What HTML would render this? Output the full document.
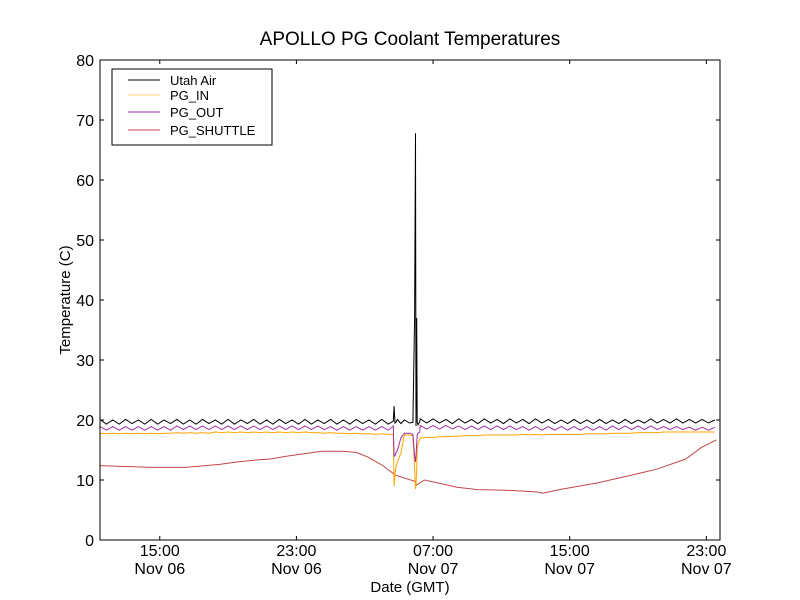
<!DOCTYPE html>
<html><head><meta charset="utf-8"><style>
body{margin:0;background:#fff;}
svg{display:block;font-family:"Liberation Sans",sans-serif;}
</style></head><body>
<svg id="chart" width="800" height="600"></svg>
<script>
// Hours since Nov 06 11:30 GMT
const xTickHours = [3.5, 11.5, 19.5, 27.5, 35.5];
const xTickLabels = [["15:00","Nov 06"],["23:00","Nov 06"],["07:00","Nov 07"],["15:00","Nov 07"],["23:00","Nov 07"]];
const yTicks = [0,10,20,30,40,50,60,70,80];
const seriesNames = ["Utah Air","PG_IN","PG_OUT","PG_SHUTTLE"];
const baseStep = 0.375;
const airBase = [20.1,19.3,20.0,19.3,20.1,19.4,20.0,19.3,20.1,19.3,20.0,19.4,20.1,19.3,20.0,19.3,20.1,19.4,20.0,19.3,20.1,19.3,20.0,19.4,20.1,19.3,20.0,19.3,20.1,19.4,20.0,19.3,20.1,19.3,20.0,19.4,20.1,19.3,20.0,19.3,20.1,19.4,20.0,19.3,20.1,19.3,20.0,19.4,20.1,19.3,20.2,19.5,20.2,19.5,20.1,19.4,20.2,19.5,20.1,19.4,20.2,19.5,20.1,19.4,20.2,19.5,20.1,19.4,20.2,19.5,20.1,19.4,20.0,19.4,20.1,19.4,20.0,19.4,20.1,19.4,20.0,19.4,20.1,19.4,20.0,19.5,20.2,19.5,20.1,19.5,20.2,19.5,20.1,19.5,20.1,19.5,20.0,19.6];
const outBase = [18.9,18.3,18.9,18.3,18.9,18.3,18.9,18.3,18.9,18.3,18.9,18.3,19.0,18.4,19.0,18.4,19.0,18.4,19.0,18.4,19.0,18.4,19.0,18.4,19.0,18.4,19.0,18.4,19.0,18.4,19.0,18.4,19.0,18.4,19.0,18.4,18.9,18.3,18.9,18.3,18.9,18.3,18.9,18.3,18.9,18.3,18.9,18.3,18.9,18.3,19.1,18.5,19.1,18.5,19.1,18.5,19.0,18.4,19.0,18.4,19.0,18.4,19.0,18.4,19.0,18.4,18.9,18.3,18.9,18.3,18.9,18.3,18.9,18.3,18.9,18.3,18.9,18.3,18.9,18.3,19.0,18.4,19.0,18.4,19.0,18.4,19.0,18.4,18.9,18.4,18.9,18.4,18.8,18.3,18.8,18.3,18.8,18.3];
const inBase = [17.8,17.7,17.8,17.7,17.8,17.7,17.8,17.7,17.8,17.7,17.8,17.8,17.9,17.8,17.9,17.8,17.9,17.8,18.0,17.9,18.0,17.9,18.0,17.9,18.0,17.9,18.0,17.9,18.0,17.9,18.0,17.9,18.0,17.9,17.9,17.8,17.9,17.8,17.8,17.7,17.8,17.7,17.7,17.6,17.7,17.6,17.6,17.6,17.0,17.0,17.0,17.1,17.1,17.2,17.2,17.3,17.3,17.4,17.4,17.4,17.5,17.5,17.5,17.5,17.5,17.5,17.6,17.5,17.6,17.5,17.6,17.6,17.6,17.6,17.6,17.6,17.7,17.7,17.7,17.7,17.8,17.8,17.8,17.8,17.9,17.9,17.9,17.9,18.0,18.0,18.0,18.0,18.0,18.0,18.0,18.0,18.0,18.0];
const eventHours = [17.17,17.22,17.27,17.32,17.42,17.62,17.82,18.12,18.32,18.42,18.47,18.5,18.54,18.57,18.62,18.72];
const airEvent =   [19.8,22.3,19.5,19.6,20.1,19.4,20.0,19.5,19.6,37.0,67.8,19.0,37.0,19.6,19.2,19.7];
const inEvent =    [17.6,9.0,11.0,12.0,13.0,14.5,17.5,17.5,17.4,12.0,8.5,9.0,12.0,15.0,16.0,16.8];
const outEvent =   [19.0,14.0,14.0,14.5,15.0,17.0,17.8,17.8,17.6,14.0,13.0,14.0,16.0,17.5,17.8,18.0];
const shuttleHours = [0,1,3,5,7,8,9,10,11,13,14.2,15,15.7,16.5,17.3,18.4,18.55,19,19.8,20.9,22.1,23.8,25.0,25.6,25.9,27.1,29.1,30.8,32.6,34.3,35.2,36.1];
const shuttleVals =  [12.4,12.3,12.1,12.1,12.6,13.0,13.3,13.5,14.0,14.8,14.8,14.6,13.8,12.5,10.8,9.8,9.2,10.0,9.5,8.8,8.4,8.3,8.1,8.0,7.8,8.5,9.5,10.6,11.8,13.5,15.4,16.7,16.3];

const NS="http://www.w3.org/2000/svg";
const svg=document.getElementById('chart');
const L=100,R=720,T=60,B=540,X0=0,X1=36.3;
const xs=h=>L+(h-X0)/(X1-X0)*(R-L);
const ys=v=>B-v/80*(B-T);
function mk(tag,attrs,parent){const e=document.createElementNS(NS,tag);for(const k in attrs)e.setAttribute(k,attrs[k]);(parent||svg).appendChild(e);return e;}
function txt(s,attrs){const e=mk('text',attrs);e.textContent=s;return e;}

function merged(base,evH,evV){
  const pts=[];
  base.forEach((v,i)=>{const h=i*baseStep;if(h<evH[0]||h>evH[evH.length-1])pts.push([h,v]);});
  evH.forEach((h,i)=>pts.push([h,evV[i]]));
  pts.sort((a,b)=>a[0]-b[0]);
  return pts.filter(p=>p[0]<=X1);
}
const clip=mk('clipPath',{id:'pc'});mk('rect',{x:L,y:T,width:R-L,height:B-T},clip);
const g=mk('g',{'clip-path':'url(#pc)'});


function line(pts,color,name,w){
  const p=mk('polyline',{points:pts.map(p=>xs(p[0]).toFixed(1)+','+ys(p[1]).toFixed(1)).join(' '),fill:'none',stroke:color,'stroke-width':w||1},g);
  
  
}
const colors=['#000000','#ffa500','#a030a0','#c04848'];
line(shuttleHours.map((h,i)=>[h,shuttleVals[i]]),colors[3],'pg-shuttle-line');
line(merged(inBase,eventHours,inEvent),colors[1],'pg-in-line');
line(merged(outBase,eventHours,outEvent),colors[2],'pg-out-line');
line(merged(airBase,eventHours,airEvent),colors[0],'utah-air-line');

const frame=mk('rect',{x:L,y:T,width:R-L,height:B-T,fill:'none',stroke:'#000','stroke-width':1});


yTicks.forEach(v=>{
  const y=ys(v);
  mk('line',{x1:L,x2:L+4,y1:y,y2:y,stroke:'#000'});
  mk('line',{x1:R-4,x2:R,y1:y,y2:y,stroke:'#000'});
  const t=txt(String(v),{x:L-6,y:y+6,'text-anchor':'end','font-size':16});
  
  
});
xTickHours.forEach((h,i)=>{
  const x=xs(h);
  mk('line',{x1:x,x2:x,y1:B-4,y2:B,stroke:'#000'});
  mk('line',{x1:x,x2:x,y1:T,y2:T+4,stroke:'#000'});
  const t=txt(xTickLabels[i][0],{x:x,y:556,'text-anchor':'middle','font-size':16});
  
  
  const t2=txt(xTickLabels[i][1],{x:x,y:574,'text-anchor':'middle','font-size':16});
  
  
});
const title=txt('APOLLO PG Coolant Temperatures',{x:410,y:45,'text-anchor':'middle','font-size':19});


const xl=txt('Date (GMT)',{x:410,y:592,'text-anchor':'middle','font-size':15});


const yl=txt('Temperature (C)',{x:0,y:0,'text-anchor':'middle','font-size':15,transform:'translate(70,300) rotate(-90)'});



const lg=mk('g',{});


mk('rect',{x:112,y:69,width:160,height:76,fill:'#fff',stroke:'#000'},lg);
const ly=[80,95,112,130];
seriesNames.forEach((n,i)=>{
  const ln=mk('line',{x1:128,x2:160,y1:ly[i],y2:ly[i],stroke:colors[i],'stroke-width':1,opacity:i==1?0.5:1},lg);
  
  
  const t=mk('text',{x:170,y:ly[i]+5,'font-size':13},lg);t.textContent=n;
  
  
});
</script>
</body></html>
